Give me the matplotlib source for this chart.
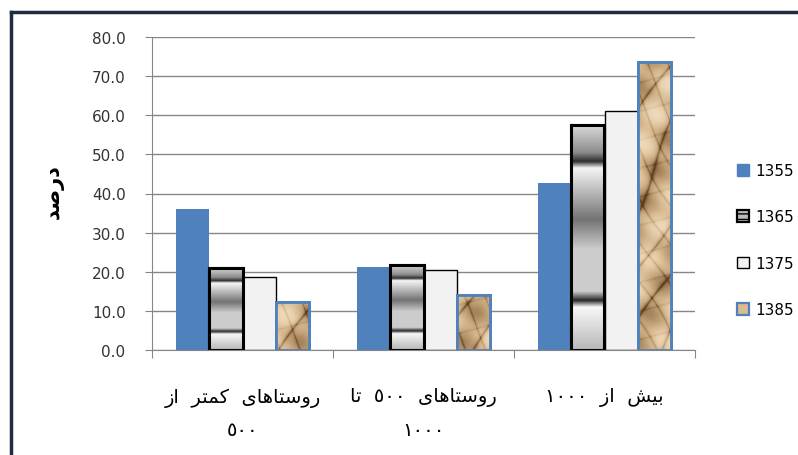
import matplotlib
matplotlib.use("Agg")
import matplotlib.pyplot as plt
from matplotlib.patches import Patch
from matplotlib.lines import Line2D
from matplotlib.colors import LinearSegmentedColormap
import numpy as np

# data
years = ['1355', '1365', '1375', '1385']
# category labels (logical order), one list of words per line
cat_lines = [
    [['روستاهای', 'کمتر', 'از'], ['٥٠٠']],
    [['روستاهای', '٥٠٠', 'تا'], ['١٠٠٠']],
    [['بیش', 'از', '١٠٠٠']],
]
v1355 = [36.0, 21.2, 42.7]
v1365 = [21.0, 21.8, 57.4]
v1375 = [18.6, 20.5, 61.0]
v1385 = [12.3, 14.1, 73.7]
yticks = [0, 10, 20, 30, 40, 50, 60, 70, 80]
ylabel = 'درصد'

# --- tiny arabic shaper (matplotlib has no complex text layout) ---
FORMS = {  # iso, fin, ini, med
    'ا': ('\uFE8D', '\uFE8E', None, None),
    'د': ('\uFEA9', '\uFEAA', None, None),
    'ر': ('\uFEAD', '\uFEAE', None, None),
    'ز': ('\uFEAF', '\uFEB0', None, None),
    'و': ('\uFEED', '\uFEEE', None, None),
    'ب': ('\uFE8F', '\uFE90', '\uFE91', '\uFE92'),
    'ت': ('\uFE95', '\uFE96', '\uFE97', '\uFE98'),
    'س': ('\uFEB1', '\uFEB2', '\uFEB3', '\uFEB4'),
    'ش': ('\uFEB5', '\uFEB6', '\uFEB7', '\uFEB8'),
    'ص': ('\uFEB9', '\uFEBA', '\uFEBB', '\uFEBC'),
    'م': ('\uFEE1', '\uFEE2', '\uFEE3', '\uFEE4'),
    'ه': ('\uFEE9', '\uFEEA', '\uFEEB', '\uFEEC'),
    'ی': ('\uFBFC', '\uFBFD', '\uFBFE', '\uFBFF'),
    'ک': ('\uFB8E', '\uFB8F', '\uFB90', '\uFB91'),
}


def shape_word(w):
    if w[0] not in FORMS:
        return w  # numbers stay left to right
    out = []
    for i, c in enumerate(w):
        f = FORMS[c]
        prev = i > 0 and FORMS[w[i - 1]][2] is not None
        nxt = i < len(w) - 1 and f[2] is not None
        if prev and nxt:
            out.append(f[3])
        elif prev:
            out.append(f[1])
        elif nxt:
            out.append(f[2])
        else:
            out.append(f[0])
    return ''.join(reversed(out))


def visual(words):
    # right-to-left: last word goes leftmost
    return '  '.join(shape_word(w) for w in reversed(words))


# --- textures ---
def stripe_img(h):
    t = np.linspace(0, 1, h)
    k = [0, 0.12, 0.16, 0.19, 0.42, 0.55, 0.74, 0.78, 0.81, 1.0]
    g = [0.85, 0.55, 0.18, 0.96, 0.45, 0.80, 0.80, 0.15, 0.97, 0.72]
    col = np.interp(t, k, g)
    return np.repeat(col[:, None], 8, axis=1)


paper = LinearSegmentedColormap.from_list(
    'paper', ['#5e3f22', '#8d6a45', '#b8976d', '#d3b68e', '#e6cfac', '#f2e0c4'])


def paper_img(h, w, seed):
    yy, xx = np.mgrid[0:h, 0:w].astype(float)
    v = (0.62 + 0.18 * np.sin(0.05 * yy + 0.11 * xx + seed)
         + 0.12 * np.sin(0.17 * yy - 0.09 * xx + 2 * seed))
    c1 = np.exp(-7 * np.abs(np.sin(0.045 * yy + 0.08 * xx + 0.8 * np.sin(0.03 * yy) + seed)))
    c2 = np.exp(-7 * np.abs(np.sin(0.07 * yy - 0.13 * xx + 0.6 * np.cos(0.05 * xx + yy * 0.02) + 2 * seed)))
    c3 = np.exp(-9 * np.abs(np.sin(0.11 * yy + 0.03 * xx + 3 * seed)))
    v = v - 0.45 * c1 - 0.3 * c2 - 0.15 * c3
    return np.clip(v, 0, 1)


fig = plt.figure(figsize=(7.98, 4.56), dpi=100)
ax = fig.add_axes([152 / 798, 1 - 351 / 456, 543 / 798, 313 / 456])

x = np.arange(3) + 0.5
w = 0.183
offs = [-1.5 * w, -0.5 * w, 0.5 * w, 1.5 * w]

ax.bar(x + offs[0], v1355, w, color='#4F81BD', zorder=2)

b65 = ax.bar(x + offs[1], v1365, w, color='#cccccc', edgecolor='black', lw=2.2, zorder=2)
for bar, v in zip(b65, v1365):
    x0 = bar.get_x()
    im = ax.imshow(stripe_img(int(v * 4) + 10), cmap='gray', vmin=0, vmax=1,
                   extent=[x0, x0 + w, 0, v], aspect='auto', zorder=2.1,
                   interpolation='bilinear')
    im.set_clip_path(bar)
ax.bar(x + offs[1], v1365, w, facecolor='none', edgecolor='black', lw=2.2, zorder=2.2)

ax.bar(x + offs[2], v1375, w, color='#F2F2F2', edgecolor='black', lw=1, zorder=2)

b85 = ax.bar(x + offs[3], v1385, w, color='#cfb08a', edgecolor='#4F81BD', lw=2, zorder=2)
for i, (bar, v) in enumerate(zip(b85, v1385)):
    x0 = bar.get_x()
    im = ax.imshow(paper_img(int(v * 3.9) + 2, 34, i * 1.7), cmap=paper, vmin=0, vmax=1,
                   extent=[x0, x0 + w, 0, v], aspect='auto', zorder=2.1,
                   interpolation='bilinear')
    im.set_clip_path(bar)
ax.bar(x + offs[3], v1385, w, facecolor='none', edgecolor='#4F81BD', lw=2, zorder=2.2)

ax.set_xlim(0, 3)
ax.set_ylim(0, 80)
ax.set_yticks(yticks)
ax.set_yticklabels(['%.1f' % t for t in yticks])
ax.set_xticks([0, 1, 2, 3])
ax.set_xticklabels([])
ax.tick_params(axis='y', length=5, color='#868686', pad=14, labelsize=11,
               labelcolor='#333333')
ax.tick_params(axis='x', length=6, color='#868686')
ax.grid(axis='y', color='#868686', lw=1)
ax.set_axisbelow(True)
for s in ['top', 'right']:
    ax.spines[s].set_visible(False)
for s in ['left', 'bottom']:
    ax.spines[s].set_color('#868686')

# category labels
for xi, lines in zip(x, cat_lines):
    for j, words in enumerate(lines):
        ax.text(xi, -12.0 - j * 8.4, visual(words), ha='center', va='center',
                fontsize=14, family='DejaVu Sans', transform=ax.transData,
                clip_on=False)

fig.text(54 / 798, 1 - 192 / 456, visual([ylabel]), rotation=90, ha='center',
         va='center', fontsize=15, fontweight='bold', family='DejaVu Sans')

handles = [
    Patch(facecolor='#4F81BD', edgecolor='#4F81BD'),
    Patch(facecolor='#bbbbbb', edgecolor='black', hatch='---', lw=1.6),
    Patch(facecolor='#F2F2F2', edgecolor='black', lw=1),
    Patch(facecolor='#d9bb94', edgecolor='#4F81BD', lw=1.6),
]
fig.legend(handles, years, loc='center left',
           bbox_to_anchor=(729 / 798, 1 - 241 / 456), frameon=False,
           fontsize=11, labelspacing=2.05, handlelength=0.8, handleheight=0.8,
           handletextpad=0.4, borderpad=0)

# outer chart border (partly cut off)
fig.add_artist(Line2D([11 / 798, 11 / 798], [0, 1 - 13 / 456], color='#1f2a44',
                      lw=2.5, transform=fig.transFigure))
fig.add_artist(Line2D([11 / 798, 1], [1 - 13 / 456, 1 - 13 / 456], color='#1f2a44',
                      lw=2.5, transform=fig.transFigure))

fig.savefig('out.png', dpi=100)
